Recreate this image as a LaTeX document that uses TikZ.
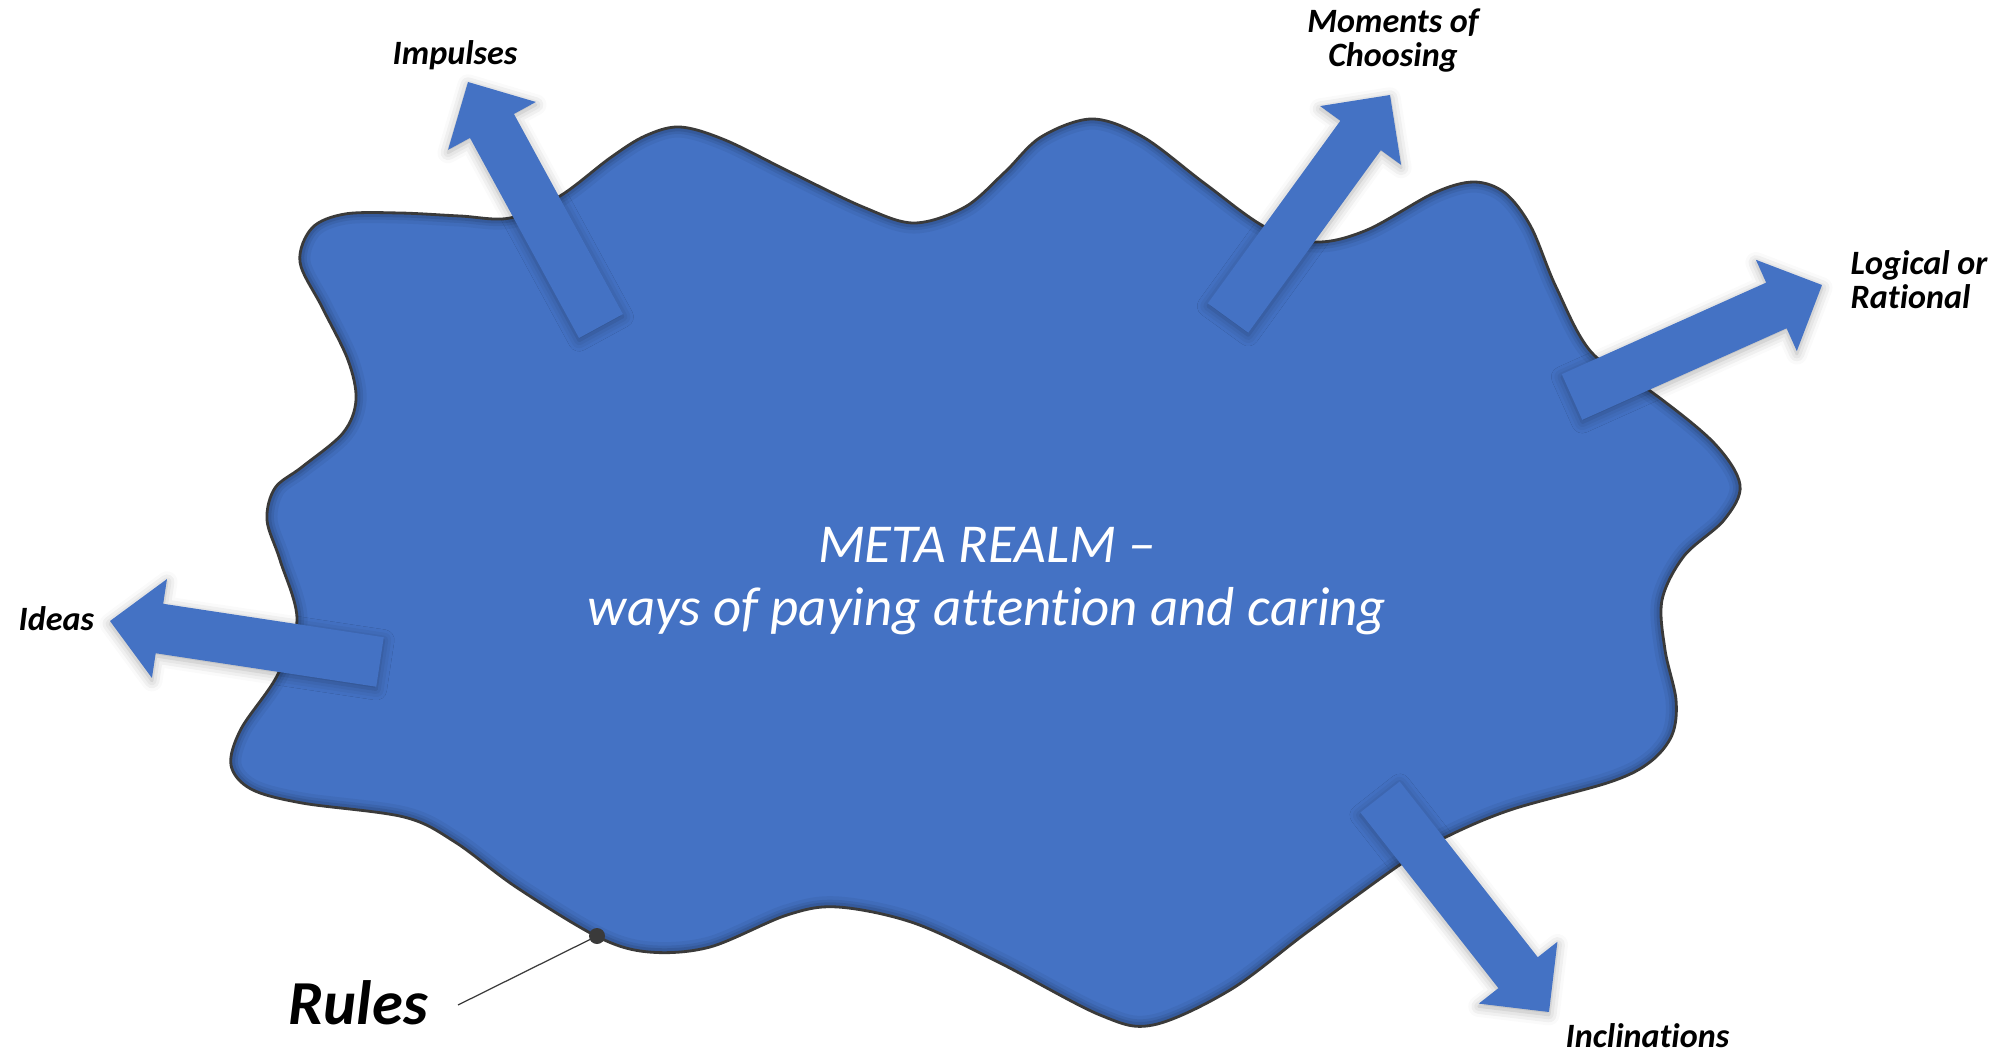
\documentclass[tikz,border=0pt]{standalone}
\usepackage{fontspec}
\setmainfont[Ligatures=NoCommon]{Carlito}
\usetikzlibrary{calc,shadows.blur}
\definecolor{blobblue}{HTML}{4472C4}
\definecolor{edgegray}{HTML}{3A3A3A}
\newcommand\mkarrow[3]{%
  \coordinate (#1T) at #2;
  \coordinate (#1P) at #3;
  \coordinate (#1B) at ($(#1P)!0.5cm!(#1T)$);
  \coordinate (#1a) at ($(#1T)!0.25cm!90:(#1P)$);
  \coordinate (#1b) at ($(#1B)!0.25cm!90:(#1P)$);
  \coordinate (#1c) at ($(#1B)!0.5cm!90:(#1P)$);
  \coordinate (#1d) at ($(#1B)!0.5cm!-90:(#1P)$);
  \coordinate (#1e) at ($(#1B)!0.25cm!-90:(#1P)$);
  \coordinate (#1f) at ($(#1T)!0.25cm!-90:(#1P)$);
  \path[blockarrow] (#1a) -- (#1b) -- (#1c) -- (#1P) -- (#1d) -- (#1e) -- (#1f) -- cycle;
}
\def\blobpath{plot[smooth cycle, tension=0.55] coordinates {
(300,262) (312,228) (345,214) (400,213) (460,216) (510,218) (560,196) (610,158) (645,136) (680,127)
(725,140) (790,172) (863,207) (914,223) (965,207) (1005,172) (1041,137) (1092,119) (1143,137)
(1204,183) (1265,227) (1316,242) (1367,230) (1434,193) (1474,182) (1505,193) (1531,227) (1556,287)
(1592,353) (1653,393) (1714,443) (1740,485) (1724,520) (1684,556) (1662,600) (1665,650) (1676,700)
(1672,735) (1650,762) (1610,782) (1510,810) (1444,838) (1398,866) (1306,933) (1230,990) (1153,1025)
(1100,1015) (1000,963) (914,923) (838,907) (787,915) (710,947) (649,952) (598,937) (516,887)
(455,842) (404,817) (302,803) (251,789) (231,765) (241,729) (277,676) (297,620) (280,560)
(267,520) (275,488) (302,467) (343,433) (356,400) (348,360) (322,307)}}
\begin{document}
\begin{tikzpicture}[x=0.01cm,y=-0.01cm,
  blockarrow/.style={fill=blobblue,
    blur shadow={shadow xshift=0pt, shadow yshift=-0.8pt, shadow blur radius=3pt, shadow opacity=32}},
  lbl/.style={font=\fontsize{9.7pt}{9.7pt}\selectfont\bfseries\itshape, inner sep=0pt, text=black},
  ctr/.style={font=\fontsize{15.6pt}{18pt}\selectfont\itshape, inner sep=0pt, text=white}]
\useasboundingbox (0,0) rectangle (2010,1052);
% blob
\fill[blobblue] \blobpath;
\begin{scope}
  \clip \blobpath;
  \draw[black, opacity=0.05, line width=6pt] \blobpath;
  \draw[black, opacity=0.07, line width=4pt] \blobpath;
  \draw[black, opacity=0.09, line width=2.5pt] \blobpath;
\end{scope}
\draw[edgegray, line width=0.8pt] \blobpath;
% arrows
\mkarrow{imp}{(601,326)}{(468,82)}
\mkarrow{mom}{(1228,318)}{(1390,95)}
\mkarrow{log}{(1572,397)}{(1822,285)}
\mkarrow{ide}{(380,662)}{(110,621)}
\mkarrow{inc}{(1380,797)}{(1549,1012)}
% rules pointer
\coordinate (rdot) at (597,936);
\coordinate (rline) at (458,1005);
\draw[edgegray, line width=0.35pt] (rline) -- (rdot);
\fill[edgegray] (rdot) circle[radius=0.08cm];
% labels
\node[lbl, anchor=base] (impulses) at (455,65) {Impulses};
\node[lbl, anchor=base] (moments) at (1393,33) {Moments of};
\node[lbl, anchor=base] (choosing) at (1393,67) {Choosing};
\node[lbl, anchor=base west] (logical) at (1850,275) {Logical or};
\node[lbl, anchor=base west] (rational) at (1850,308) {Rational};
\node[lbl, anchor=base west] (ideas) at (18,630) {Ideas};
\node[lbl, anchor=base west] (inclinations) at (1565,1047) {Inclinations};
\node[lbl, anchor=base west, font=\fontsize{17.8pt}{18pt}\selectfont\bfseries\itshape] (rules) at (288,1024) {Rules};
\node[ctr, anchor=base] (title1) at (987,562) {META REALM –};
\node[ctr, anchor=base] (title2) at (987,625) {ways of paying attention and caring};
\end{tikzpicture}
\end{document}
